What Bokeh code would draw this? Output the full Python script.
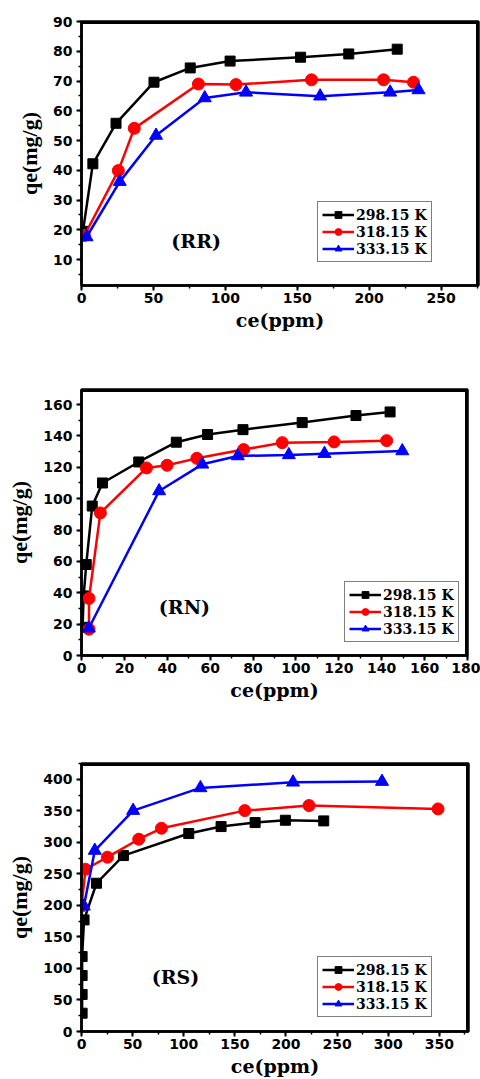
from bokeh.plotting import figure
from bokeh.layouts import column
from bokeh.models import Label, Legend, LegendItem, FixedTicker, Range1d
from bokeh.embed import file_html
from bokeh.resources import INLINE

temps = ["298.15 K", "318.15 K", "333.15 K"]
colors = ["black", "red", "blue"]
markers = ["square", "circle", "triangle"]

# ---- (RR) ----
rr_x_298 = [1.0, 7.9, 24.0, 50.4, 75.6, 103.3, 152.3, 185.8, 219.5]
rr_y_298 = [19.5, 42.2, 55.8, 69.6, 74.4, 76.7, 78.0, 79.1, 80.7]
rr_x_318 = [2.0, 25.6, 36.7, 81.3, 107.4, 159.9, 210.0, 230.8]
rr_y_318 = [18.1, 39.9, 54.1, 69.0, 68.8, 70.4, 70.4, 69.6]
rr_x_333 = [3.5, 26.6, 51.8, 85.7, 114.4, 165.9, 214.6, 234.3]
rr_y_333 = [17.6, 36.2, 51.7, 64.3, 66.2, 64.9, 66.2, 67.0]
rr_xticks = [0, 50, 100, 150, 200, 250]
rr_yticks = [10, 20, 30, 40, 50, 60, 70, 80, 90]

# ---- (RN) ----
rn_x_298 = [0.5, 1.0, 2.2, 5.0, 9.8, 26.7, 44.2, 58.8, 75.3, 102.9, 128.0, 143.9]
rn_y_298 = [18.0, 38.0, 58.0, 95.3, 110.0, 123.4, 136.0, 140.9, 144.0, 148.5, 153.0, 155.3]
rn_x_318 = [3.5, 3.5, 8.8, 30.3, 39.9, 53.8, 75.6, 93.6, 117.8, 142.3]
rn_y_318 = [16.8, 36.4, 90.9, 119.6, 121.3, 125.7, 131.3, 135.7, 136.2, 137.0]
rn_x_333 = [3.4, 36.2, 56.3, 72.9, 96.7, 113.3, 149.6]
rn_y_333 = [17.4, 104.9, 121.9, 127.2, 127.9, 128.7, 130.4]
rn_xticks = [0, 20, 40, 60, 80, 100, 120, 140, 160, 180]
rn_yticks = [0, 20, 40, 60, 80, 100, 120, 140, 160]

# ---- (RS) ----
rs_x_298 = [0.6, 0.6, 0.6, 0.6, 2.5, 14.7, 41.0, 104.9, 136.5, 169.8, 199.4, 236.9]
rs_y_298 = [29.0, 58.7, 88.8, 118.9, 177.0, 235.1, 279.0, 313.9, 325.0, 331.3, 335.0, 334.0]
rs_x_318 = [0.0, 3.9, 25.4, 56.0, 78.2, 159.7, 222.5, 348.7]
rs_y_318 = [198.7, 257.3, 276.4, 304.9, 322.3, 350.3, 358.3, 353.0]
rs_x_333 = [2.3, 13.0, 50.5, 116.3, 206.9, 293.9]
rs_y_333 = [198.7, 287.0, 350.3, 386.3, 395.2, 396.3]
rs_xticks = [0, 50, 100, 150, 200, 250, 300, 350]
rs_yticks = [0, 50, 100, 150, 200, 250, 300, 350, 400]

panel_names = ["(RR)", "(RN)", "(RS)"]
x_title = "ce(ppm)"
y_title = "qe(mg/g)"


def minors(ticks, end):
    step = ticks[1] - ticks[0]
    out = []
    t = ticks[0] - step / 2.0
    while t <= end:
        if t >= 0:
            out.append(t)
        t += step / 2.0
    return out


def make_panel(series, name, xr, yr, xticks, yticks, fw, fh, top, bottom, left, right,
               name_pos, legend_loc):
    p = figure(frame_width=fw, frame_height=fh, output_backend="svg", toolbar_location=None,
               x_range=Range1d(*xr), y_range=Range1d(*yr),
               min_border_top=top, min_border_bottom=bottom,
               min_border_left=left, min_border_right=right)
    p.grid.visible = False
    p.outline_line_color = "black"
    p.outline_line_width = 2.5
    p.background_fill_color = "white"
    p.border_fill_color = "white"

    p.xaxis.ticker = FixedTicker(ticks=xticks, minor_ticks=minors(xticks, xr[1]))
    p.yaxis.ticker = FixedTicker(ticks=yticks, minor_ticks=minors(yticks, yr[1]))
    for ax in (p.xaxis[0], p.yaxis[0]):
        ax.axis_line_width = 2.5
        ax.major_tick_line_width = 2
        ax.minor_tick_line_width = 1.5
        ax.major_tick_out = 5
        ax.major_tick_in = 0
        ax.minor_tick_out = 3
        ax.minor_tick_in = 0
        ax.major_label_text_font = "DejaVu Sans"
        ax.major_label_text_font_style = "bold"
        ax.major_label_text_font_size = "14px"
        ax.major_label_text_color = "black"
        ax.axis_label_text_font_style = "bold"
        ax.axis_label_text_color = "black"
    p.xaxis.major_label_standoff = 2
    p.yaxis.major_label_standoff = 4
    p.xaxis.axis_label = x_title
    p.xaxis.axis_label_text_font = "DejaVu Serif"
    p.xaxis.axis_label_text_font_size = "19px"
    p.xaxis.axis_label_standoff = 3
    p.yaxis.axis_label = y_title
    p.yaxis.axis_label_text_font = "Liberation Serif"
    p.yaxis.axis_label_text_font_size = "22px"
    p.yaxis.axis_label_standoff = 8

    # top and right edges of the frame, drawn along the range limits
    p.line([xr[0], xr[1]], [yr[1], yr[1]], line_color="black", line_width=5)
    p.line([xr[1], xr[1]], [yr[0], yr[1]], line_color="black", line_width=5)

    items = []
    sizes = [10, 12, 13]
    for (xs, ys), lab, c, m, s in zip(series, temps, colors, markers, sizes):
        r1 = p.line(xs, ys, line_color=c, line_width=2.5)
        r2 = p.scatter(xs, ys, marker=m, size=s, fill_color=c, line_color=c)
        items.append(LegendItem(label=lab, renderers=[r1, r2]))

    leg = Legend(items=items, location=legend_loc)
    leg.label_text_font = "DejaVu Serif"
    leg.label_text_font_style = "bold"
    leg.label_text_font_size = "14px"
    leg.label_text_color = "black"
    leg.border_line_color = "black"
    leg.border_line_width = 1.5
    leg.background_fill_alpha = 1
    leg.padding = 4
    leg.spacing = 0
    leg.margin = 0
    leg.glyph_width = 32
    leg.glyph_height = 17
    leg.label_height = 17
    leg.label_standoff = 2
    p.add_layout(leg)

    p.add_layout(Label(x=name_pos[0], y=name_pos[1], text=name, text_align="center",
                       text_baseline="middle", text_font="DejaVu Serif",
                       text_font_style="bold", text_font_size="19px", text_color="black"))
    return p


p1 = make_panel([(rr_x_298, rr_y_298), (rr_x_318, rr_y_318), (rr_x_333, rr_y_333)],
                panel_names[0], (0, 276), (1.3, 90), rr_xticks, rr_yticks,
                397, 264, 21, 70, 81, 2, (79.7, 16.4), (236, 23))
p2 = make_panel([(rn_x_298, rn_y_298), (rn_x_318, rn_y_318), (rn_x_333, rn_y_333)],
                panel_names[1], (0, 180), (0, 169.6), rn_xticks, rn_yticks,
                386, 266, 34, 70, 78, 16, (48, 30.8), (263, 13))
p3 = make_panel([(rs_x_298, rs_y_298), (rs_x_318, rs_y_318), (rs_x_333, rs_y_333)],
                panel_names[2], (0, 378.5), (0, 425), rs_xticks, rs_yticks,
                387, 268, 38, 48, 78, 15, (91.9, 86), (236, 14))

layout = column(p1, p2, p3, spacing=0)
open("out.html", "w").write(file_html(layout, INLINE))
